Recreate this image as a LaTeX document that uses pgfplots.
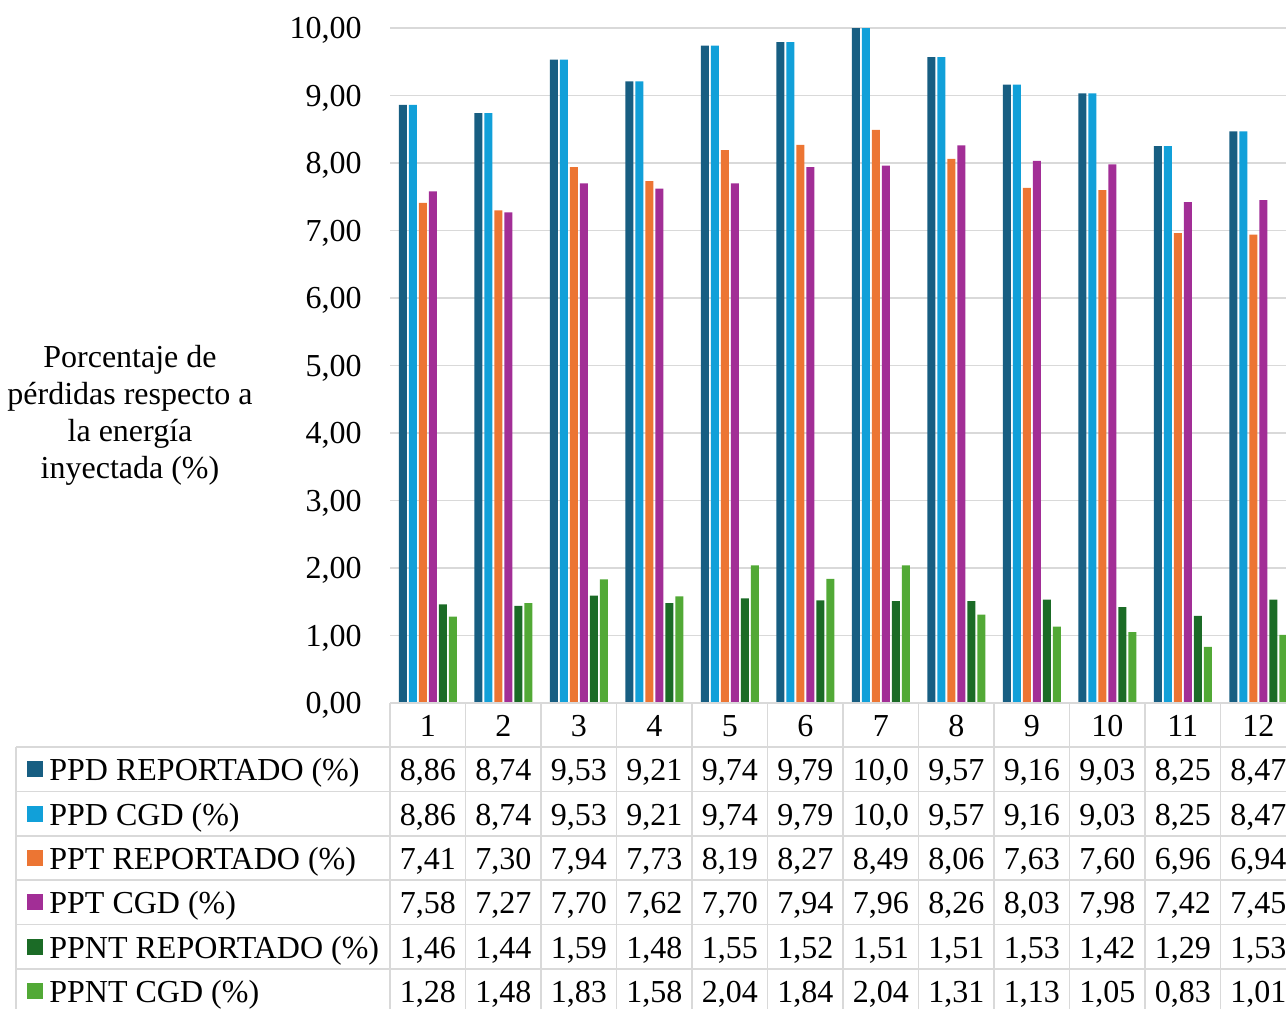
\documentclass[border=0pt]{standalone}
\usepackage{pgfplots}
\usepackage{pgfplotstable}
\pgfplotsset{compat=1.18}
\usepackage{fontspec}
\setmainfont{Liberation Serif}
\definecolor{c1}{HTML}{175E82}
\definecolor{c2}{HTML}{11A0D9}
\definecolor{c3}{HTML}{EC7533}
\definecolor{c4}{HTML}{A22E96}
\definecolor{c5}{HTML}{1B6B26}
\definecolor{c6}{HTML}{52A936}
\definecolor{gridgray}{HTML}{D9D9D9}
\pgfplotstableread{
x a b c d e f
1 8.86 8.86 7.41 7.58 1.46 1.28
2 8.74 8.74 7.30 7.27 1.44 1.48
3 9.53 9.53 7.94 7.70 1.59 1.83
4 9.21 9.21 7.73 7.62 1.48 1.58
5 9.74 9.74 8.19 7.70 1.55 2.04
6 9.79 9.79 8.27 7.94 1.52 1.84
7 10.00 10.00 8.49 7.96 1.51 2.04
8 9.57 9.57 8.06 8.26 1.51 1.31
9 9.16 9.16 7.63 8.03 1.53 1.13
10 9.03 9.03 7.60 7.98 1.42 1.05
11 8.25 8.25 6.96 7.42 1.29 0.83
12 8.47 8.47 6.94 7.45 1.53 1.01
}\data
\def\rowA{{8,86},{8,74},{9,53},{9,21},{9,74},{9,79},{10,0},{9,57},{9,16},{9,03},{8,25},{8,47}}
\def\rowB{{8,86},{8,74},{9,53},{9,21},{9,74},{9,79},{10,0},{9,57},{9,16},{9,03},{8,25},{8,47}}
\def\rowC{{7,41},{7,30},{7,94},{7,73},{8,19},{8,27},{8,49},{8,06},{7,63},{7,60},{6,96},{6,94}}
\def\rowD{{7,58},{7,27},{7,70},{7,62},{7,70},{7,94},{7,96},{8,26},{8,03},{7,98},{7,42},{7,45}}
\def\rowE{{1,46},{1,44},{1,59},{1,48},{1,55},{1,52},{1,51},{1,51},{1,53},{1,42},{1,29},{1,53}}
\def\rowF{{1,28},{1,48},{1,83},{1,58},{2,04},{1,84},{2,04},{1,31},{1,13},{1,05},{0,83},{1,01}}
\begin{document}
\begin{tikzpicture}[font=\fontsize{16}{18.5}\selectfont]
\useasboundingbox (0,0) rectangle (643pt,-504pt);
\begin{axis}[
  at={(195pt,-351.5pt)}, anchor=south west,
  scale only axis, width=453pt, height=337.5pt,
  xmin=0.5, xmax=12.5, ymin=0, ymax=10,
  ytick={0,1,...,10}, xtick=\empty,
  axis line style={draw=none},
  ymajorgrids, grid style={draw=gridgray, line width=0.75pt},
  major tick length=0pt,
  ybar=1pt, bar width=4pt,
  /pgf/number format/assume math mode=true,
  yticklabel={\pgfmathprintnumber[assume math mode=true,fixed,fixed zerofill,precision=2,use comma]{\tick}},
  yticklabel style={font=\fontsize{16}{18.5}\selectfont, anchor=east, inner sep=0pt, xshift=-14pt, text depth=0pt},
  clip=false,
]
\addplot[fill=c1,draw=none] table[x=x,y=a]{\data};
\addplot[fill=c2,draw=none] table[x=x,y=b]{\data};
\addplot[fill=c3,draw=none] table[x=x,y=c]{\data};
\addplot[fill=c4,draw=none] table[x=x,y=d]{\data};
\addplot[fill=c5,draw=none] table[x=x,y=e]{\data};
\addplot[fill=c6,draw=none] table[x=x,y=f]{\data};
\end{axis}
\begin{scope}[x=0.5pt,y=-0.5pt]
  \node[align=center] at (130,415) {Porcentaje de\\pérdidas respecto a\\la energía\\inyectada (\%)};
  % table lines
  \draw[gridgray, line width=0.75pt] (390,703) -- (1296,703);
  \foreach \yy in {747,791.4,835.8,880.2,924.6,969}
    \draw[gridgray, line width=0.75pt] (16,\yy) -- (1296,\yy);
  \draw[gridgray, line width=0.75pt] (16,747) -- (16,1010);
  \foreach \k in {0,...,12}
    \draw[gridgray, line width=0.75pt] ({390+75.5*\k},703) -- ({390+75.5*\k},1010);
  % header
  \foreach \c in {1,...,12}
    \node[anchor=base, inner sep=0pt] at ({390+75.5*\c-37.75},736.5) {\c};
  % legend column
  \foreach \col/\yy/\lab in {c1/769.2/PPD REPORTADO (\%), c2/813.6/PPD CGD (\%), c3/858/PPT REPORTADO (\%), c4/902.4/PPT CGD (\%), c5/946.8/PPNT REPORTADO (\%), c6/991.2/PPNT CGD (\%)}{
    \fill[\col] (27,\yy-8) rectangle (43,\yy+8);
    \node[anchor=base west, inner sep=0pt] at (49,\yy+11.5) {\lab};
  }
  \foreach \v [count=\c] in \rowA
    \node[anchor=base, inner sep=0pt] at ({390+75.5*\c-37.75},780.7) {\v};
  \foreach \v [count=\c] in \rowB
    \node[anchor=base, inner sep=0pt] at ({390+75.5*\c-37.75},825.1) {\v};
  \foreach \v [count=\c] in \rowC
    \node[anchor=base, inner sep=0pt] at ({390+75.5*\c-37.75},869.5) {\v};
  \foreach \v [count=\c] in \rowD
    \node[anchor=base, inner sep=0pt] at ({390+75.5*\c-37.75},913.9) {\v};
  \foreach \v [count=\c] in \rowE
    \node[anchor=base, inner sep=0pt] at ({390+75.5*\c-37.75},958.3) {\v};
  \foreach \v [count=\c] in \rowF
    \node[anchor=base, inner sep=0pt] at ({390+75.5*\c-37.75},1002.7) {\v};
\end{scope}
\end{tikzpicture}
\end{document}
